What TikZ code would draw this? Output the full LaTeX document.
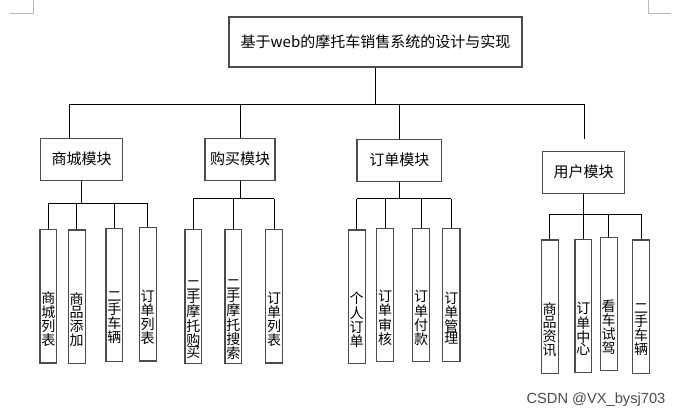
\documentclass[tikz,border=0pt]{standalone}
\usepackage{fontspec}
\newfontfamily\cjk{Noto Sans CJK SC}
\setsansfont{Liberation Sans}

\begin{document}
\begin{tikzpicture}[x=0.75pt, y=-0.75pt,
        box/.style={rectangle, draw=black!70, line width=0.8pt, fill=white, inner sep=0pt,
            font=\cjk\fontsize{11.25}{13}\selectfont, minimum height=31.3pt},
        leaf/.style={rectangle, draw=black!70, line width=0.8pt, inner sep=0pt,
            minimum width=12.5pt, minimum height=100pt},
        leaftext/.style={font=\cjk\fontsize{10.5}{9.3}\selectfont, align=center, inner sep=0pt, yshift=-17.25pt},
        line/.style={black, line width=0.75pt},
        crop/.style={gray!55, line width=0.6pt}]

        \useasboundingbox (0,0) rectangle (682,417);

        % page corner marks
        \draw[crop] (10,13.3) -| (33.7,0);
        \draw[crop] (671,13.3) -| (648,0);

        % root and modules
        \node[box, minimum width=219.75pt, minimum height=37.5pt] (root) at (375.5,42) {基于web的摩托车销售系统的设计与实现};
        \node[box, minimum width=61.5pt] (shop) at (81.7,159.2) {商城模块};
        \node[box, minimum width=52.5pt] (buy) at (240,159.2) {购买模块};
        \node[box, minimum width=63.5pt] (order) at (399.3,160.2) {订单模块};
        \node[box, minimum width=61.8pt] (user) at (583.5,172.2) {用户模块};

        % leaves of 商城模块
        \node[leaf, label={[leaftext]center:{商\\城\\列\\表}}] (s1) at (48.3,296.3) {};
        \node[leaf, label={[leaftext]center:{商\\品\\添\\加}}] (s2) at (76.7,296.7) {};
        \node[leaf, label={[leaftext]center:{二\\手\\车\\辆}}] (s3) at (114.3,295) {};
        \node[leaf, label={[leaftext]center:{订\\单\\列\\表}}] (s4) at (147.7,294.3) {};

        % leaves of 购买模块
        \node[leaf, label={[leaftext]center:{二\\手\\摩\\托\\购\\买}}] (b1) at (193.3,296.5) {};
        \node[leaf, label={[leaftext]center:{二\\手\\摩\\托\\搜\\索}}] (b2) at (233.3,296.5) {};
        \node[leaf, label={[leaftext]center:{订\\单\\列\\表}}] (b3) at (274,296.3) {};

        % leaves of 订单模块
        \node[leaf, label={[leaftext]center:{个\\人\\订\\单}}] (o1) at (356.7,296.7) {};
        \node[leaf, label={[leaftext]center:{订\\单\\审\\核}}] (o2) at (385,295) {};
        \node[leaf, label={[leaftext]center:{订\\单\\付\\款}}] (o3) at (421,295) {};
        \node[leaf, minimum width=13pt, label={[leaftext]center:{订\\单\\管\\理}}] (o4) at (451.3,295) {};

        % leaves of 用户模块
        \node[leaf, label={[leaftext]center:{商\\品\\资\\讯}}] (u1) at (549.7,306.7) {};
        \node[leaf, label={[leaftext]center:{订\\单\\中\\心}}] (u2) at (583.3,306) {};
        \node[leaf, label={[leaftext]center:{看\\车\\试\\驾}}] (u3) at (608.7,304) {};
        \node[leaf, label={[leaftext]center:{二\\手\\车\\辆}}] (u4) at (641,306.7) {};

        % bus lines
        \coordinate (top) at (0,104.3);
        \coordinate (shopdrop) at (69.3,104.3);
        \coordinate (userdrop) at (584,104.3);
        \draw[line] (root.south) -- (root.south |- top);
        \draw[line] (shopdrop) -- (userdrop);
        \draw[line] (shopdrop) -- (shopdrop |- shop.north);
        \draw[line] (buy.north |- top) -- (buy.north);
        \draw[line] (order.north |- top) -- (order.north);
        \draw[line] (userdrop) -- ++(0,35);

        \coordinate (sbus) at (0,203.7);
        \coordinate (bbus) at (0,198.7);
        \coordinate (obus) at (0,198.7);
        \coordinate (ubus) at (0,214.3);

        \draw[line] (shop.south) -- (shop.south |- sbus);
        \draw[line] (s1.north |- sbus) -- (s4.north |- sbus);
        \foreach \l in {s1,s2,s3,s4}
            \draw[line] (\l.north |- sbus) -- (\l.north);

        \draw[line] (buy.south) -- (buy.south |- bbus);
        \draw[line] (b1.north |- bbus) -- (b3.north |- bbus);
        \foreach \l in {b1,b2,b3}
            \draw[line] (\l.north |- bbus) -- (\l.north);

        \draw[line] (order.south) -- (order.south |- obus);
        \draw[line] (o1.north |- obus) -- (o4.north |- obus);
        \foreach \l in {o1,o2,o3,o4}
            \draw[line] (\l.north |- obus) -- (\l.north);

        \draw[line] (user.south) -- (user.south |- ubus);
        \draw[line] (u1.north |- ubus) -- (u4.north |- ubus);
        \foreach \l in {u1,u2,u3,u4}
            \draw[line] (\l.north |- ubus) -- (\l.north);

        % watermark
        \node[font=\sffamily\fontsize{11}{13}\selectfont, text=black!70, inner sep=0pt] (mark) at (596,400) {CSDN @VX\_bysj703};
    \end{tikzpicture}
\end{document}
